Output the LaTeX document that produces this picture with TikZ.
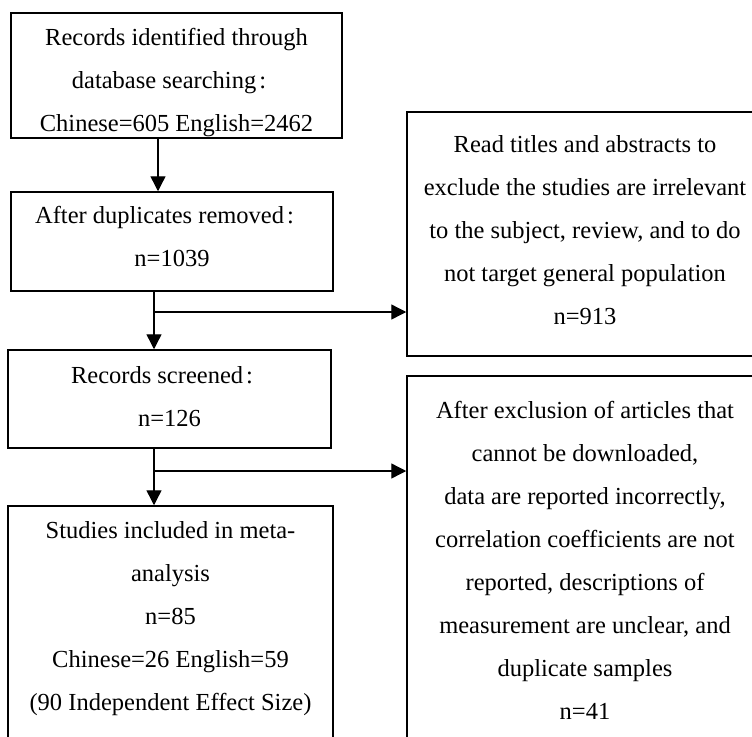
\documentclass[tikz,border=0pt]{standalone}
\usepackage{fontspec}
\setmainfont{Liberation Serif}
\usetikzlibrary{arrows.meta}
\newcommand{\cc}{\hspace*{3pt}:\rule{15pt}{0pt}}
\tikzset{
  boxnode/.style={draw=black, line width=1.5pt, rectangle, inner sep=0pt},
  txt/.style={anchor=north, align=center, inner sep=0pt,
    font=\fontsize{24.5}{43}\selectfont},
  arr/.style={line width=1.4pt, -{Triangle[length=15pt,width=15pt]}},
  ln/.style={line width=1.4pt}
}
\newcommand{\tstrut}{\rule{0pt}{18pt}}
\begin{document}
\begin{tikzpicture}[x=1pt,y=-1pt]
\useasboundingbox (0,0) rectangle (752,736);
\clip (0,0) rectangle (752,736);
\fill[white] (0,0) rectangle (752,736);
% boxes
\node[boxnode, minimum width=331pt, minimum height=125pt] (box1) at (176.5,75.5) {};
\node[boxnode, minimum width=322pt, minimum height=99pt] (box2) at (172,241.5) {};
\node[boxnode, minimum width=323pt, minimum height=98pt] (box3) at (169.5,399) {};
\node[boxnode, minimum width=325pt, minimum height=274pt] (box4) at (170.5,643) {};
\node[boxnode, minimum width=356pt, minimum height=244pt] (rbox1) at (585,234) {};
\node[boxnode, minimum width=356pt, minimum height=404pt] (rbox2) at (585,578) {};
% texts
\node[txt] (t1) at (176.5,27) {\tstrut Records identified through\\database searching\cc\\Chinese=605 English=2462};
\node[txt] (t2) at (172,205) {\tstrut After duplicates removed\cc\\n=1039};
\node[txt] (t3) at (169.5,365) {\tstrut Records screened\cc\\n=126};
\node[txt] (t4) at (170.5,520) {\tstrut Studies included in meta-\\analysis\\n=85\\Chinese=26 English=59\\(90 Independent Effect Size)};
\node[txt] (r1) at (585,134) {\tstrut Read titles and abstracts to\\exclude the studies are irrelevant\\to the subject, review, and to do\\not target general population\\n=913};
\node[txt] (r2) at (585,400) {\tstrut After exclusion of articles that\\cannot be downloaded,\\data are reported incorrectly,\\correlation coefficients are not\\reported, descriptions of\\measurement are unclear, and\\duplicate samples\\n=41};
% connectors
\draw[arr] ([xshift=-18.5pt]box1.south) -- ([xshift=-14pt]box2.north);
\draw[arr] ([xshift=-18pt]box2.south) -- ([xshift=-15.5pt]box3.north);
\coordinate (j1) at (154,312);
\draw[arr] (j1) -- (j1 -| rbox1.west);
\draw[arr] ([xshift=-15.5pt]box3.south) -- ([xshift=-16.5pt]box4.north);
\coordinate (j2) at (154,471);
\draw[arr] (j2) -- (j2 -| rbox2.west);
\end{tikzpicture}
\end{document}
